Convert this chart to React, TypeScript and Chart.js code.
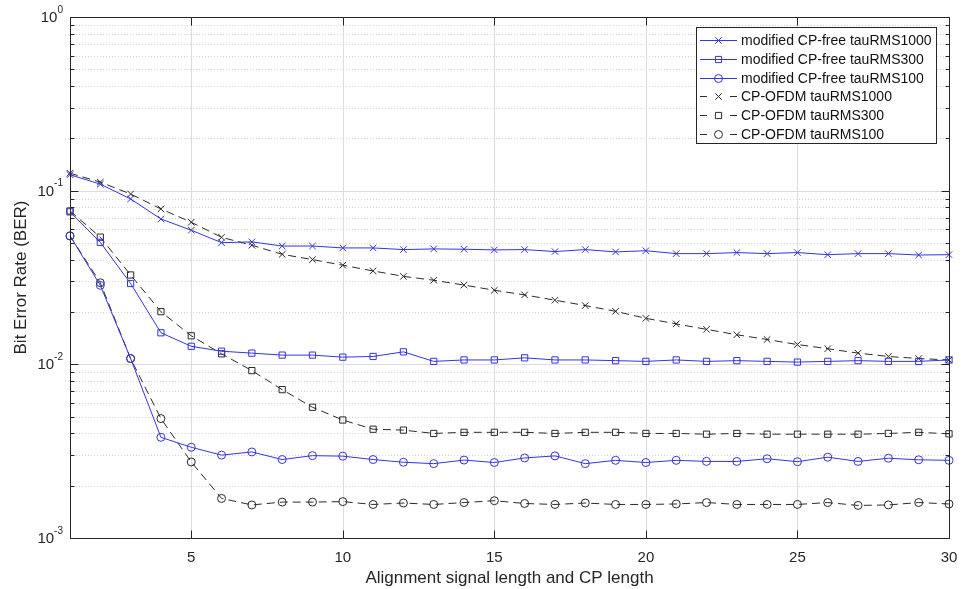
import React, { useEffect, useRef } from 'react';
import { Chart, registerables } from 'chart.js';

Chart.register(...registerables);

// Alignment signal length / CP length (x axis)
const lengths = [1, 2, 3, 4, 5, 6, 7, 8, 9, 10, 11, 12, 13, 14, 15, 16, 17, 18, 19, 20, 21, 22, 23, 24, 25, 26, 27, 28, 29, 30];

// BER, modified CP-free scheme
const cpFree1000 = [0.1236, 0.109, 0.0896, 0.0687, 0.0592, 0.0502, 0.0507, 0.048, 0.048, 0.0468, 0.0468, 0.0458, 0.0462, 0.046, 0.0456, 0.0458, 0.0446, 0.0458, 0.0444, 0.0451, 0.0434, 0.0434, 0.044, 0.0434, 0.044, 0.0428, 0.0434, 0.0434, 0.0426, 0.0428];
const cpFree300 = [0.0755, 0.0504, 0.0292, 0.0152, 0.0127, 0.0119, 0.0116, 0.0113, 0.0113, 0.011, 0.0111, 0.0118, 0.0104, 0.0106, 0.0106, 0.0109, 0.0106, 0.0106, 0.0105, 0.0104, 0.0106, 0.0104, 0.0105, 0.0104, 0.0103, 0.0104, 0.0105, 0.0104, 0.0104, 0.0106];
const cpFree100 = [0.0549, 0.0285, 0.0108, 0.0038, 0.00333, 0.003, 0.00313, 0.00283, 0.00298, 0.00296, 0.00283, 0.00273, 0.00268, 0.00281, 0.00272, 0.00289, 0.00297, 0.00268, 0.0028, 0.00272, 0.0028, 0.00276, 0.00276, 0.00286, 0.00275, 0.00292, 0.00276, 0.00288, 0.00282, 0.0028];

// BER, conventional CP-OFDM
const cpOfdm1000 = [0.126, 0.112, 0.0957, 0.0785, 0.0658, 0.0539, 0.0485, 0.043, 0.0401, 0.0372, 0.0345, 0.0321, 0.0305, 0.0286, 0.0267, 0.0251, 0.0234, 0.0218, 0.0202, 0.0184, 0.0171, 0.0159, 0.0148, 0.0139, 0.013, 0.0123, 0.0116, 0.0111, 0.0108, 0.0106];
const cpOfdm300 = [0.0764, 0.054, 0.0327, 0.0201, 0.0146, 0.0115, 0.0092, 0.00715, 0.00566, 0.00478, 0.00423, 0.00418, 0.004, 0.00406, 0.00406, 0.00406, 0.004, 0.00406, 0.00406, 0.004, 0.004, 0.00396, 0.004, 0.00396, 0.00396, 0.00396, 0.00396, 0.004, 0.00406, 0.00398];
const cpOfdm100 = [0.0549, 0.0295, 0.0108, 0.00487, 0.00274, 0.00169, 0.00155, 0.00161, 0.00161, 0.00162, 0.00156, 0.00159, 0.00156, 0.0016, 0.00164, 0.00158, 0.00156, 0.00159, 0.00156, 0.00156, 0.00157, 0.0016, 0.00156, 0.00156, 0.00156, 0.0016, 0.00154, 0.00155, 0.0016, 0.00157];

const xTicks = [5, 10, 15, 20, 25, 30];
const yDecades = [-3, -2, -1, 0];

const seriesNames = [
  'modified CP-free tauRMS1000',
  'modified CP-free tauRMS300',
  'modified CP-free tauRMS100',
  'CP-OFDM tauRMS1000',
  'CP-OFDM tauRMS300',
  'CP-OFDM tauRMS100',
];

const FONT = '"Liberation Sans", Arial, Helvetica, sans-serif';
const AXIS = '#262626';
const BLUE = '#3434dc';
const DARK = '#2a2a2a';
const DASH = [8, 5];

type Marker = 'crossRot' | 'rect' | 'circle';
const markerOf: Marker[] = ['crossRot', 'rect', 'circle', 'crossRot', 'rect', 'circle'];
const radiusOf: Record<Marker, number> = { crossRot: 4.6, rect: 4.4, circle: 4 };

function drawMarker(ctx: CanvasRenderingContext2D, kind: Marker, cx: number, cy: number) {
  ctx.beginPath();
  if (kind === 'crossRot') {
    const h = 3.2;
    ctx.moveTo(cx - h, cy - h); ctx.lineTo(cx + h, cy + h);
    ctx.moveTo(cx + h, cy - h); ctx.lineTo(cx - h, cy + h);
  } else if (kind === 'rect') {
    const h = 3.1;
    ctx.rect(cx - h, cy - h, 2 * h, 2 * h);
  } else {
    ctx.arc(cx, cy, 4, 0, Math.PI * 2);
  }
  ctx.stroke();
}

const matlabFrame = {
  id: 'matlabFrame',
  beforeDatasetsDraw(chart: any) {
    const { ctx, chartArea: a, scales } = chart;
    const ys = scales.y;
    const xs = scales.x;
    ctx.save();
    ctx.lineWidth = 1;
    // horizontal grid: solid at decades, dotted at intermediate values
    for (const k of yDecades) {
      for (let m = 1; m <= 9; m++) {
        const v = m * Math.pow(10, k);
        if (v <= 1e-3 || v >= 1) continue;
        const py = Math.round(ys.getPixelForValue(v)) + 0.5;
        ctx.beginPath();
        if (m === 1) {
          ctx.setLineDash([]);
          ctx.strokeStyle = '#dcdcdc';
        } else {
          ctx.setLineDash([1, 2]);
          ctx.strokeStyle = '#d4d4d4';
        }
        ctx.moveTo(a.left, py);
        ctx.lineTo(a.right, py);
        ctx.stroke();
      }
    }
    // vertical grid at major x ticks
    ctx.setLineDash([]);
    ctx.strokeStyle = '#dcdcdc';
    for (const t of xTicks) {
      const px = Math.round(xs.getPixelForValue(t)) + 0.5;
      if (px >= a.right - 1) continue;
      ctx.beginPath();
      ctx.moveTo(px, a.top);
      ctx.lineTo(px, a.bottom);
      ctx.stroke();
    }
    ctx.restore();
  },
  afterDatasetsDraw(chart: any) {
    const { ctx, chartArea: a, scales } = chart;
    const ys = scales.y;
    const xs = scales.x;
    const L = Math.round(a.left) + 0.5;
    const R = Math.round(a.right) + 0.5;
    const T = Math.round(a.top) + 0.5;
    const B = Math.round(a.bottom) + 0.5;
    ctx.save();
    ctx.lineWidth = 1;
    ctx.setLineDash([]);
    ctx.strokeStyle = AXIS;

    // axes box
    ctx.strokeRect(L, T, R - L, B - T);

    // inward tick marks
    ctx.beginPath();
    for (const t of xTicks) {
      const px = Math.round(xs.getPixelForValue(t)) + 0.5;
      ctx.moveTo(px, B); ctx.lineTo(px, B - 8);
      ctx.moveTo(px, T); ctx.lineTo(px, T + 8);
    }
    for (const k of yDecades) {
      for (let m = 1; m <= 9; m++) {
        const v = m * Math.pow(10, k);
        if (v < 1e-3 || v > 1) continue;
        const py = Math.round(ys.getPixelForValue(v)) + 0.5;
        const len = m === 1 ? 8 : 4;
        ctx.moveTo(L, py); ctx.lineTo(L + len, py);
        ctx.moveTo(R, py); ctx.lineTo(R - len, py);
      }
    }
    ctx.stroke();

    // y tick labels with exponents
    ctx.fillStyle = AXIS;
    ctx.textBaseline = 'middle';
    for (const k of yDecades) {
      const py = ys.getPixelForValue(Math.pow(10, k));
      const exp = k === 0 ? '0' : '-' + Math.abs(k);
      ctx.font = `10px ${FONT}`;
      const ew = ctx.measureText(exp).width;
      const right = 63;
      ctx.textAlign = 'right';
      ctx.fillText(exp, right, py - 7);
      ctx.font = `15px ${FONT}`;
      ctx.fillText('10', right - ew, py + 1);
    }

    // axis titles
    ctx.font = `17px ${FONT}`;
    ctx.textAlign = 'center';
    ctx.textBaseline = 'middle';
    ctx.fillText('Alignment signal length and CP length', (a.left + a.right) / 2, 578);
    ctx.save();
    ctx.translate(21, (a.top + a.bottom) / 2);
    ctx.rotate(-Math.PI / 2);
    ctx.fillText('Bit Error Rate (BER)', 0, 0);
    ctx.restore();

    // legend
    const bx = 696.5, by = 27.5, bw = 240, bh = 116;
    ctx.fillStyle = '#ffffff';
    ctx.fillRect(bx, by, bw, bh);
    ctx.strokeStyle = AXIS;
    ctx.strokeRect(bx, by, bw, bh);
    ctx.font = `14px ${FONT}`;
    ctx.textAlign = 'left';
    ctx.textBaseline = 'middle';
    seriesNames.forEach((name, i) => {
      const cy = Math.round(40 + i * 18.8) + 0.5;
      const blue = i < 3;
      ctx.strokeStyle = blue ? BLUE : DARK;
      ctx.lineWidth = 1;
      ctx.beginPath();
      ctx.setLineDash([]);
      if (blue) {
        ctx.moveTo(700, cy); ctx.lineTo(737, cy);
      } else {
        ctx.moveTo(700, cy); ctx.lineTo(707, cy);
        ctx.moveTo(730, cy); ctx.lineTo(737, cy);
      }
      ctx.stroke();
      drawMarker(ctx, markerOf[i], 718.5, cy);
      ctx.fillStyle = '#111111';
      ctx.fillText(name, 741, cy + 0.5);
    });
    ctx.restore();
  },
};

function series(values: number[]) {
  return lengths.map((x, i) => ({ x, y: values[i] }));
}

export default function App() {
  const canvasRef = useRef<HTMLCanvasElement | null>(null);

  useEffect(() => {
    document.body.style.margin = '0';
    const canvas = canvasRef.current;
    if (!canvas) return;
    const all = [cpFree1000, cpFree300, cpFree100, cpOfdm1000, cpOfdm300, cpOfdm100];
    const datasets = all.map((vals, i) => {
      const blue = i < 3;
      return {
        label: seriesNames[i],
        data: series(vals),
        borderColor: blue ? BLUE : DARK,
        backgroundColor: 'rgba(0,0,0,0)',
        borderWidth: 1,
        borderDash: blue ? [] : DASH,
        pointStyle: markerOf[i],
        pointRadius: radiusOf[markerOf[i]],
        pointBorderWidth: 1,
        pointBorderColor: blue ? BLUE : DARK,
        pointBackgroundColor: 'rgba(0,0,0,0)',
        pointHoverRadius: radiusOf[markerOf[i]],
        tension: 0,
        fill: false,
        clip: false as any,
      };
    });

    const chart = new Chart(canvas, {
      type: 'line',
      data: { datasets },
      plugins: [matlabFrame],
      options: {
        responsive: false,
        animation: false,
        events: [],
        layout: { padding: { left: 0, right: 12, top: 17, bottom: 0 } },
        plugins: {
          legend: { display: false },
          tooltip: { enabled: false },
          title: { display: false },
        },
        scales: {
          x: {
            type: 'linear',
            min: 1,
            max: 30,
            grid: { display: false, drawTicks: false },
            border: { display: false },
            afterBuildTicks: (s: any) => {
              s.ticks = xTicks.map((v) => ({ value: v }));
            },
            afterFit: (s: any) => {
              s.height = 51;
              s.paddingLeft = 0;
              s.paddingRight = 0;
            },
            ticks: {
              color: AXIS,
              padding: 11,
              maxRotation: 0,
              autoSkip: false,
              font: { family: FONT, size: 15 },
            },
          },
          y: {
            type: 'logarithmic',
            min: 0.001,
            max: 1,
            grid: { display: false, drawTicks: false },
            border: { display: false },
            ticks: { display: false },
            afterFit: (s: any) => {
              s.width = 70;
              s.paddingTop = 0;
              s.paddingBottom = 0;
            },
          },
        },
      },
    });
    return () => chart.destroy();
  }, []);

  return (
    <div style={{ position: 'absolute', left: 0, top: 0, width: 961, height: 589, background: '#ffffff' }}>
      <canvas ref={canvasRef} width={961} height={589} style={{ display: 'block' }} />
    </div>
  );
}
